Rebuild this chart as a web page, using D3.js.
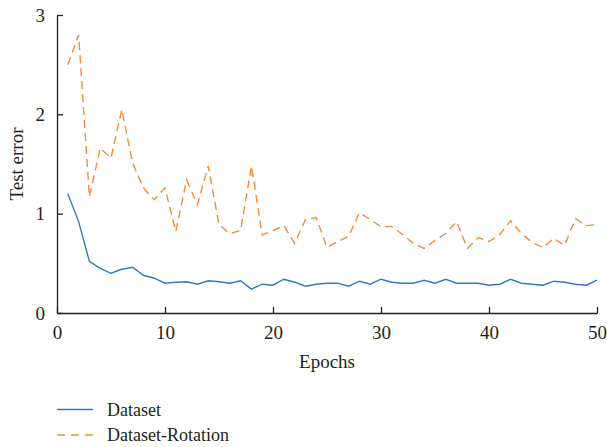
<!DOCTYPE html>
<html lang="en">
	<head>
		<meta charset="utf-8">
		<title>Test error</title>
		<script type="text/javascript" src="https://cdn.jsdelivr.net/npm/d3@7"></script>
		<style type="text/css">
			body { margin: 0; background: #fff; }
			text { font-family: "Liberation Serif", "DejaVu Serif", serif; fill: #231f20; }
		</style>
	</head>
	<body>
		<script type="text/javascript">

			//Data
			var epochs = d3.range(1, 51);
			var dataset = [1.20, 0.92, 0.52, 0.45, 0.40, 0.44, 0.46, 0.38, 0.35, 0.30,
				0.31, 0.315, 0.29, 0.325, 0.315, 0.30, 0.325, 0.24, 0.29, 0.28,
				0.34, 0.31, 0.27, 0.29, 0.30, 0.30, 0.27, 0.32, 0.29, 0.34,
				0.31, 0.30, 0.30, 0.33, 0.30, 0.34, 0.30, 0.30, 0.30, 0.28,
				0.29, 0.34, 0.30, 0.29, 0.28, 0.32, 0.31, 0.29, 0.28, 0.33];
			var datasetRotation = [2.50, 2.80, 1.17, 1.66, 1.56, 2.05, 1.51, 1.26, 1.14, 1.26,
				0.82, 1.34, 1.09, 1.48, 0.89, 0.80, 0.83, 1.48, 0.785, 0.83,
				0.88, 0.70, 0.94, 0.96, 0.66, 0.72, 0.77, 1.01, 0.94, 0.87,
				0.87, 0.79, 0.70, 0.65, 0.73, 0.80, 0.92, 0.65, 0.76, 0.72,
				0.79, 0.93, 0.80, 0.71, 0.66, 0.75, 0.68, 0.95, 0.88, 0.89];
			var xTicks = [0, 10, 20, 30, 40, 50];
			var yTicks = [0, 1, 2, 3];
			var seriesNames = ["Dataset", "Dataset-Rotation"];

			//Width and height
			var w = 607;
			var h = 447;
			var plotLeft = 57, plotRight = 597, plotTop = 15, plotBottom = 313;

			var xScale = d3.scaleLinear().domain([0, 50]).range([plotLeft, plotRight]);
			var yScale = d3.scaleLinear().domain([0, 3]).range([plotBottom, plotTop]);

			var svg = d3.select("body")
						.append("svg")
						.attr("width", w)
						.attr("height", h);

			var series = [
				{ name: seriesNames[0], values: dataset, color: "#3477c4", dash: null },
				{ name: seriesNames[1], values: datasetRotation, color: "#f58a3f", dash: "8,5" }
			];

			var line = d3.line()
						 .x(function(d, i) { return xScale(epochs[i]); })
						 .y(function(d) { return yScale(d); });

			svg.selectAll("path.series")
			   .data(series)
			   .enter()
			   .append("path")
			   .attr("class", "series")
			   .attr("d", function(d) { return line(d.values); })
			   .attr("fill", "none")
			   .attr("stroke", function(d) { return d.color; })
			   .attr("stroke-width", 1.4)
			   .attr("stroke-dasharray", function(d) { return d.dash; });

			//Axes, ticks point inward
			var xAxis = d3.axisBottom(xScale).tickValues(xTicks).tickFormat(d3.format("d"))
						  .tickSizeInner(-6).tickSizeOuter(0).tickPadding(10);
			var yAxis = d3.axisLeft(yScale).tickValues(yTicks).tickFormat(d3.format("d"))
						  .tickSizeInner(-6).tickSizeOuter(0).tickPadding(10);

			var gx = svg.append("g")
				.attr("transform", "translate(0," + plotBottom + ")")
				.call(xAxis);
			var gy = svg.append("g")
				.attr("transform", "translate(" + plotLeft + ",0)")
				.call(yAxis);

			[gx, gy].forEach(function(g) {
				g.select(".domain").attr("stroke", "#231f20").attr("stroke-width", 1.3);
				g.selectAll(".tick line").attr("stroke", "#231f20").attr("stroke-width", 1.3);
				g.selectAll(".tick text")
				 .attr("font-family", "Liberation Serif, DejaVu Serif, serif")
				 .attr("font-size", "19px")
				 .attr("fill", "#231f20");
			});
			gx.selectAll(".tick text").attr("dy", "0.85em");
			gy.selectAll(".tick text").attr("dx", "-0.1em");

			//Axis titles
			svg.append("text")
			   .attr("x", (plotLeft + plotRight) / 2)
			   .attr("y", 368)
			   .attr("text-anchor", "middle")
			   .attr("font-size", "19px")
			   .text("Epochs");

			svg.append("text")
			   .attr("transform", "translate(23," + ((plotTop + plotBottom) / 2) + ") rotate(-90)")
			   .attr("text-anchor", "middle")
			   .attr("font-size", "19px")
			   .text("Test error");

			//Legend
			var legend = svg.selectAll("g.legend")
				.data(series)
				.enter()
				.append("g")
				.attr("class", "legend")
				.attr("transform", function(d, i) { return "translate(57," + (409.5 + i * 25.5) + ")"; });

			legend.append("line")
				.attr("x1", 0).attr("x2", 36)
				.attr("y1", 0).attr("y2", 0)
				.attr("stroke", function(d) { return d.color; })
				.attr("stroke-width", 1.5)
				.attr("stroke-dasharray", function(d) { return d.dash ? "8,6" : null; });

			legend.append("text")
				.attr("x", 50)
				.attr("y", 6)
				.attr("font-size", "18px")
				.text(function(d) { return d.name; });

		</script>
	</body>
</html>
